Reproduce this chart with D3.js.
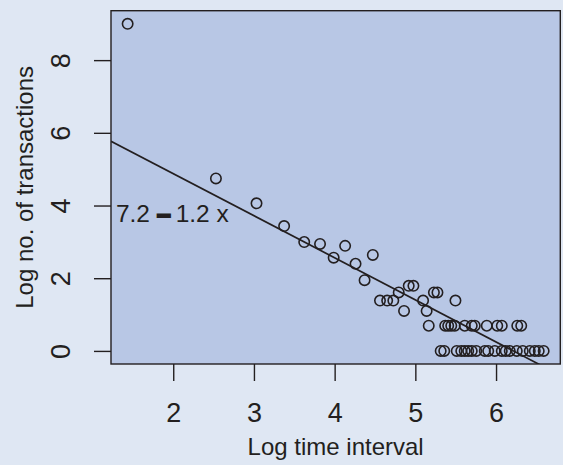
<!DOCTYPE html>
<html>
<head>
<meta charset="utf-8">
<script src="https://cdn.jsdelivr.net/npm/d3@7"></script>
<style>
  body { margin: 0; background: #dfe7f3; }
  svg { display: block; font-family: "Liberation Sans", Arial, Helvetica, sans-serif; }
</style>
</head>
<body>
<div id="chart"></div>
<script>
// log time interval (x) and log no. of transactions (y)
const logInterval = [
  1.435, 2.529, 3.032, 3.374, 3.623, 3.819, 3.988, 4.130, 4.259, 4.371, 4.473,
  4.562, 4.651, 4.727, 4.794, 4.860, 4.918, 4.976, 5.096, 5.140, 5.166, 5.230,
  5.274, 5.497,
  // y = log 2 row
  5.370, 5.407, 5.445, 5.488, 5.612, 5.699, 5.736, 5.885, 6.015, 6.071, 6.263, 6.312,
  // y = 0 row
  5.314, 5.358, 5.513, 5.569, 5.612, 5.655, 5.699, 5.755, 5.860, 5.903, 5.984,
  6.071, 6.120, 6.170, 6.257, 6.331, 6.418, 6.480, 6.529, 6.590
];
const logCount = [
  9.000, 4.745, 4.060, 3.434, 2.996, 2.944, 2.565, 2.890, 2.398, 1.946, 2.640,
  1.386, 1.386, 1.386, 1.609, 1.099, 1.792, 1.792, 1.386, 1.099, 0.693, 1.609,
  1.609, 1.386,
  0.693, 0.693, 0.693, 0.693, 0.693, 0.693, 0.693, 0.693, 0.693, 0.693, 0.693, 0.693,
  0, 0, 0, 0, 0, 0, 0, 0, 0, 0, 0,
  0, 0, 0, 0, 0, 0, 0, 0, 0
];
const xTicks = [2, 3, 4, 5, 6];
const yTicks = [0, 2, 4, 6, 8];
// fitted line (shown rounded in the label)
const intercept = 7.19;
const slope = -1.157;
const fitLabel = ["7.2", "\u2013", "1.2 x"];
const fitLabelAt = [1.29, 3.55];

const points = logInterval.map((x, i) => ({ x: x, y: logCount[i] }));

const W = 563, H = 465;
const margin = { top: 10.7, right: 2.7, bottom: 101, left: 111 };
const width = W - margin.left - margin.right;
const height = H - margin.top - margin.bottom;
const ink = "#231f20";

// R style 4% padding on the data range
function padded(ext) {
  const p = (ext[1] - ext[0]) * 0.04;
  return [ext[0] - p, ext[1] + p];
}

const x = d3.scaleLinear().domain(padded(d3.extent(points, d => d.x))).range([0, width]);
const y = d3.scaleLinear().domain(padded(d3.extent(points, d => d.y))).range([height, 0]);

const svg = d3.select("#chart").append("svg").attr("width", W).attr("height", H);
svg.append("rect").attr("width", W).attr("height", H).attr("fill", "#dfe7f3");

const g = svg.append("g").attr("transform", `translate(${margin.left},${margin.top})`);

g.append("clipPath").attr("id", "plot-clip")
  .append("rect").attr("width", width).attr("height", height);

g.append("rect")
  .attr("width", width)
  .attr("height", height)
  .attr("fill", "#b8c7e5");

// regression line
g.append("line")
  .attr("clip-path", "url(#plot-clip)")
  .attr("x1", 0).attr("x2", width)
  .attr("y1", y(intercept + slope * x.domain()[0]))
  .attr("y2", y(intercept + slope * x.domain()[1]))
  .attr("stroke", ink)
  .attr("stroke-width", 1.7);

g.selectAll("circle.pt")
  .data(points)
  .join("circle")
  .attr("class", "pt")
  .attr("cx", d => x(d.x))
  .attr("cy", d => y(d.y))
  .attr("r", 5.2)
  .attr("fill", "none")
  .attr("stroke", ink)
  .attr("stroke-width", 1.6);

const lbl = g.append("text")
  .attr("x", x(fitLabelAt[0]))
  .attr("y", y(fitLabelAt[1]))
  .attr("fill", ink)
  .style("font-size", "24.5px");
lbl.append("tspan").text(fitLabel[0]);
lbl.append("tspan").attr("dx", 7)
  .style("font-weight", "bold")
  .attr("stroke", ink).attr("stroke-width", 2.2)
  .text(fitLabel[1]);
lbl.append("tspan").attr("dx", 5).text(fitLabel[2]);

// axes
const xAxis = g.append("g")
  .attr("transform", `translate(0,${height})`)
  .call(d3.axisBottom(x).tickValues(xTicks).tickSize(17).tickPadding(22).tickFormat(d3.format("d")));
const yAxis = g.append("g")
  .call(d3.axisLeft(y).tickValues(yTicks).tickSize(17).tickPadding(7).tickFormat(d3.format("d")));

[xAxis, yAxis].forEach(a => {
  a.select(".domain").remove();
  a.selectAll(".tick line").attr("stroke", ink).attr("stroke-width", 1.4);
  a.selectAll(".tick text")
    .attr("fill", ink)
    .style("font-size", "27px")
    .style("font-family", "\"Liberation Sans\", Arial, sans-serif");
});
yAxis.selectAll(".tick text")
  .attr("x", null).attr("dy", null)
  .attr("text-anchor", "middle")
  .attr("transform", "translate(-41,0) rotate(-90)");

g.append("rect")
  .attr("width", width)
  .attr("height", height)
  .attr("fill", "none")
  .attr("stroke", ink)
  .attr("stroke-width", 1.4);

// axis titles
g.append("text")
  .attr("x", width / 2)
  .attr("y", height + 91)
  .attr("text-anchor", "middle")
  .attr("fill", ink)
  .style("font-size", "24px")
  .text("Log time interval");

g.append("text")
  .attr("transform", `translate(${33 - margin.left},${height / 2}) rotate(-90)`)
  .attr("text-anchor", "middle")
  .attr("fill", ink)
  .style("font-size", "24px")
  .text("Log no. of transactions");
</script>
</body>
</html>
